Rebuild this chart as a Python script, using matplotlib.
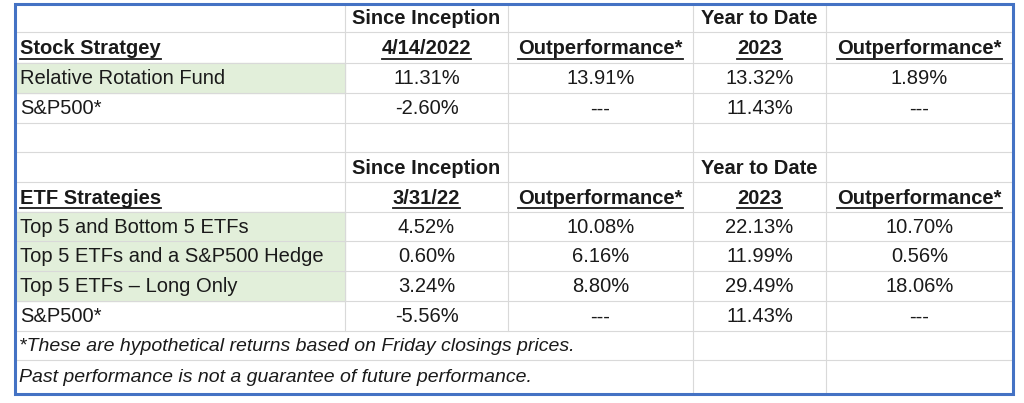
import matplotlib
matplotlib.use("Agg")
import matplotlib.pyplot as plt
from matplotlib.patches import Rectangle

# table content
stock_head1 = ["", "Since Inception", "", "Year to Date", ""]
stock_head2 = ["Stock Stratgey", "4/14/2022", "Outperformance*", "2023", "Outperformance*"]
stock_rows = [
    ["Relative Rotation Fund", "11.31%", "13.91%", "13.32%", "1.89%"],
    ["S&P500*", "-2.60%", "---", "11.43%", "---"],
]
etf_head1 = ["", "Since Inception", "", "Year to Date", ""]
etf_head2 = ["ETF Strategies", "3/31/22", "Outperformance*", "2023", "Outperformance*"]
etf_rows = [
    ["Top 5 and Bottom 5 ETFs", "4.52%", "10.08%", "22.13%", "10.70%"],
    ["Top 5 ETFs and a S&P500 Hedge", "0.60%", "6.16%", "11.99%", "0.56%"],
    ["Top 5 ETFs \u2013 Long Only", "3.24%", "8.80%", "29.49%", "18.06%"],
    ["S&P500*", "-5.56%", "---", "11.43%", "---"],
]
footnotes = [
    "*These are hypothetical returns based on Friday closings prices.",
    "Past performance is not a guarantee of future performance.",
]
green_rows = ["Relative Rotation Fund", "Top 5 and Bottom 5 ETFs",
              "Top 5 ETFs and a S&P500 Hedge", "Top 5 ETFs \u2013 Long Only"]

col_x = [15, 345, 508, 693, 826, 1013]
row_y = [4, 32, 63, 93, 123, 152, 182, 212, 241, 271, 301, 331, 360, 394]

rows = [("h1", stock_head1), ("h2", stock_head2)] + [("d", r) for r in stock_rows] + \
       [("e", None), ("h1", etf_head1), ("h2", etf_head2)] + [("d", r) for r in etf_rows] + \
       [("f", footnotes[0]), ("f", footnotes[1])]

fig = plt.figure(figsize=(10.24, 4.03), dpi=100)
ax = fig.add_axes([0, 0, 1, 1])
ax.set_xlim(0, 1024)
ax.set_ylim(403, 0)
ax.axis("off")

font = "Liberation Sans"
fs = 14.5
grid = "#d9d9d9"
ink = "#1a1a1a"
underlines = []

for i, (kind, r) in enumerate(rows):
    y0, y1 = row_y[i], row_y[i + 1]
    yc = (y0 + y1) / 2
    # horizontal grid lines
    if i > 0:
        ax.plot([col_x[0], col_x[-1]], [y0, y0], color=grid, lw=0.8, zorder=1)
    # vertical grid lines
    for j in range(1, 5):
        if kind == "f" and j < 3:
            continue
        ax.plot([col_x[j], col_x[j]], [y0, y1], color=grid, lw=0.8, zorder=1)
    if kind == "f":
        ax.text(col_x[0] + 4, yc + 1, r, ha="left", va="center", fontsize=fs - 0.5,
                style="italic", family=font, color=ink, zorder=3)
        continue
    if kind == "e":
        continue
    for j, s in enumerate(r):
        if not s:
            continue
        bold = kind in ("h1", "h2")
        if j == 0:
            if s in green_rows:
                ax.add_patch(Rectangle((col_x[0], y0), col_x[1] - col_x[0], y1 - y0,
                                       color="#e2efda", zorder=0))
            t = ax.text(col_x[0] + 5, yc + 1, s, ha="left", va="center", fontsize=fs,
                        weight="bold" if bold else "normal", family=font, color=ink, zorder=3)
        else:
            t = ax.text((col_x[j] + col_x[j + 1]) / 2, yc + 1, s, ha="center", va="center",
                        fontsize=fs, weight="bold" if bold else "normal", family=font,
                        color=ink, zorder=3)
        if kind == "h2":
            underlines.append((t, y1 - 4))

# underline the second header row
fig.canvas.draw()
inv = ax.transData.inverted()
for t, yl in underlines:
    bb = t.get_window_extent()
    (xa, _), (xb, _) = inv.transform([[bb.x0, bb.y0], [bb.x1, bb.y0]])
    ax.plot([xa, xb], [yl, yl], color=ink, lw=1.3, zorder=3)

ax.add_patch(Rectangle((col_x[0], row_y[0]), col_x[-1] - col_x[0], row_y[-1] - row_y[0],
                       fill=False, edgecolor="#4472c4", lw=2.2, zorder=4))

fig.savefig("out.png", dpi=100)
